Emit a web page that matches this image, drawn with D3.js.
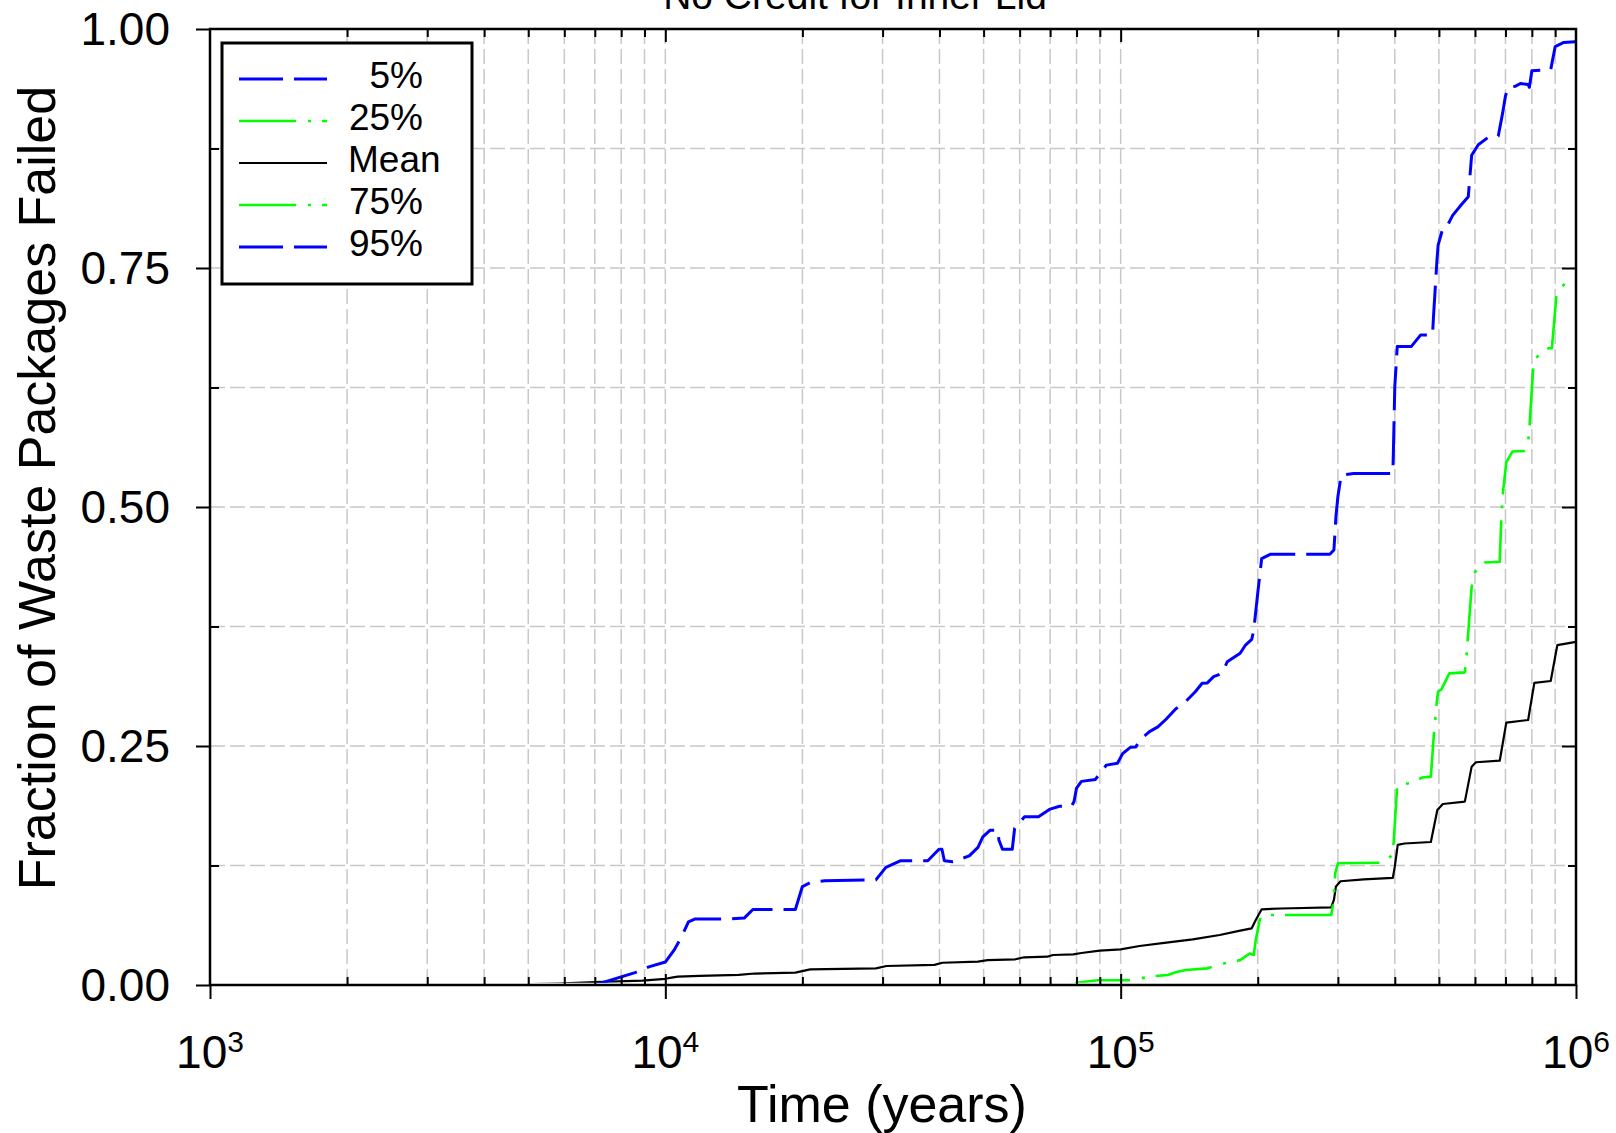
<!DOCTYPE html>
<html>
<head>
<meta charset="utf-8">
<script src="https://cdn.jsdelivr.net/npm/d3@7"></script>
<style>
  body { margin: 0; background: #fff; }
  svg { display: block; font-family: "Liberation Sans", Arial, Helvetica, sans-serif; }
</style>
</head>
<body>
<div id="chart"></div>
<script>
// Waste package failure fraction vs time (log axis)

// [time (years), fraction failed]
const pct5 = [[1e3, 0], [1e6, 0]];
const pct25 = [[1e3, 0], [1e6, 0]];

const meanCurve = [
  [3.6e3, 0], [4.4e3, 0.0004], [5.8e3, 0.0015], [7.0e3, 0.003], [8.9e3, 0.0045],
  [1.0e4, 0.0065], [1.04e4, 0.008], [1.065e4, 0.0087], [1.19e4, 0.0095], [1.45e4, 0.0105],
  [1.57e4, 0.012], [1.93e4, 0.013], [2.08e4, 0.0164], [2.9e4, 0.0174], [3.06e4, 0.0199],
  [3.9e4, 0.021], [4.06e4, 0.0233], [4.86e4, 0.0244], [5.1e4, 0.026], [5.87e4, 0.0269],
  [6.14e4, 0.029], [6.9e4, 0.0296], [7.1e4, 0.0314], [7.87e4, 0.032], [8.2e4, 0.0335],
  [9.0e4, 0.036], [1.0e5, 0.0373], [1.1e5, 0.0408], [1.26e5, 0.0443], [1.44e5, 0.0478],
  [1.65e5, 0.0523], [1.83e5, 0.0568], [1.94e5, 0.0593], [1.98e5, 0.068], [2.04e5, 0.0792],
  [2.25e5, 0.080], [2.9e5, 0.0813], [2.94e5, 0.089], [2.97e5, 0.103], [3.04e5, 0.1085],
  [3.42e5, 0.1105], [3.96e5, 0.112], [4.0e5, 0.1238], [4.06e5, 0.1465], [4.2e5, 0.148],
  [4.8e5, 0.1496], [4.96e5, 0.183], [5.1e5, 0.1893], [5.7e5, 0.1918], [5.9e5, 0.2284],
  [6.03e5, 0.233], [6.8e5, 0.2346], [7.03e5, 0.2744], [7.85e5, 0.2772], [8.1e5, 0.316],
  [8.8e5, 0.318], [9.1e5, 0.3556], [1e6, 0.359]
];

const pct75 = [
  [7.9e4, 0], [8.0e4, 0.0024], [8.9e4, 0.005], [1.04e5, 0.005], [1.19e5, 0.0094],
  [1.27e5, 0.0105], [1.32e5, 0.0133], [1.39e5, 0.0157], [1.55e5, 0.0174], [1.69e5, 0.0227],
  [1.83e5, 0.026], [1.92e5, 0.033], [1.96e5, 0.0314], [1.98e5, 0.047], [2.02e5, 0.068],
  [2.05e5, 0.0732], [2.9e5, 0.0732], [2.93e5, 0.0854], [2.96e5, 0.117], [3.0e5, 0.1273],
  [3.8e5, 0.128], [3.96e5, 0.137], [3.98e5, 0.152], [4.05e5, 0.209], [4.3e5, 0.211],
  [4.6e5, 0.217], [4.8e5, 0.218], [4.87e5, 0.26], [4.95e5, 0.298], [4.98e5, 0.307],
  [5.06e5, 0.309], [5.27e5, 0.326], [5.7e5, 0.327], [5.75e5, 0.345], [5.9e5, 0.4167],
  [6.0e5, 0.432], [6.3e5, 0.442], [6.8e5, 0.4428], [6.85e5, 0.4847], [6.9e5, 0.5125],
  [7.03e5, 0.547], [7.25e5, 0.558], [7.7e5, 0.5586], [7.85e5, 0.568], [7.9e5, 0.5823],
  [8.04e5, 0.6405], [8.1e5, 0.655], [8.7e5, 0.666], [8.85e5, 0.666], [8.87e5, 0.671],
  [9.06e5, 0.722], [9.45e5, 0.734], [1e6, 0.736]
];

const pct95 = [
  [7.0e3, 0], [8.58e3, 0.013], [9.2e3, 0.019], [1.0e4, 0.024], [1.047e4, 0.037],
  [1.084e4, 0.05], [1.124e4, 0.066], [1.16e4, 0.069], [1.38e4, 0.069], [1.49e4, 0.070],
  [1.557e4, 0.079], [1.93e4, 0.079], [2.0e4, 0.103], [2.08e4, 0.107], [2.24e4, 0.109],
  [2.9e4, 0.110], [3.05e4, 0.123], [3.29e4, 0.130], [3.77e4, 0.130], [3.99e4, 0.142],
  [4.05e4, 0.142], [4.1e4, 0.130], [4.28e4, 0.129], [4.65e4, 0.135], [4.86e4, 0.144],
  [4.98e4, 0.155], [5.17e4, 0.162], [5.38e4, 0.162], [5.4e4, 0.152], [5.5e4, 0.142],
  [5.78e4, 0.142], [5.85e4, 0.164], [6.15e4, 0.176], [6.6e4, 0.176], [7.0e4, 0.184],
  [7.34e4, 0.187], [7.8e4, 0.187], [7.9e4, 0.192], [8.0e4, 0.206], [8.2e4, 0.213],
  [8.8e4, 0.215], [9.3e4, 0.230], [9.84e4, 0.232], [1.01e5, 0.242], [1.05e5, 0.2486],
  [1.08e5, 0.249], [1.1e5, 0.256], [1.157e5, 0.265], [1.207e5, 0.270], [1.258e5, 0.278],
  [1.322e5, 0.289], [1.38e5, 0.295], [1.46e5, 0.307], [1.51e5, 0.3156], [1.55e5, 0.316],
  [1.6e5, 0.3225], [1.67e5, 0.326], [1.714e5, 0.338], [1.83e5, 0.347], [1.88e5, 0.3556],
  [1.94e5, 0.3616], [1.96e5, 0.371], [2.0e5, 0.41], [2.04e5, 0.446], [2.13e5, 0.4505],
  [2.88e5, 0.4505], [2.94e5, 0.455], [2.97e5, 0.49], [3.0e5, 0.511], [3.05e5, 0.5335],
  [3.25e5, 0.535], [3.96e5, 0.535], [3.97e5, 0.554], [4.0e5, 0.626], [4.05e5, 0.668],
  [4.35e5, 0.668], [4.56e5, 0.68], [4.84e5, 0.68], [4.87e5, 0.703], [4.95e5, 0.758],
  [4.98e5, 0.774], [5.1e5, 0.7915], [5.2e5, 0.793], [5.36e5, 0.805], [5.55e5, 0.814],
  [5.8e5, 0.8246], [5.9e5, 0.868], [6.1e5, 0.879], [6.43e5, 0.887], [6.75e5, 0.888],
  [6.9e5, 0.912], [7.0e5, 0.93], [7.1e5, 0.939], [7.35e5, 0.940], [7.55e5, 0.943],
  [7.85e5, 0.942], [7.9e5, 0.939], [8.0e5, 0.9564], [8.8e5, 0.9575], [9.0e5, 0.9815],
  [9.4e5, 0.986], [1e6, 0.9867]
];

const majorYears = [1e3, 1e4, 1e5, 1e6];
const yMajor = [0, 0.25, 0.5, 0.75, 1];
const yMinor = [0.125, 0.375, 0.625, 0.875];
const legendLabels = ["5%", "25%", "Mean", "75%", "95%"];

const W = 1616, H = 1133;
const L = 210, R = 1576, T = 29, B = 985;

const svg = d3.select("#chart").append("svg")
  .attr("width", W)
  .attr("height", H);

svg.append("rect").attr("width", W).attr("height", H).attr("fill", "#fff");

const x = d3.scaleLog().domain([1e3, 1e6]).range([L, R]);
const y = d3.scaleLinear().domain([0, 1]).range([B, T]);

// minor decade ticks 2..9
const minorYears = [];
[1e3, 1e4, 1e5].forEach(d => { for (let k = 2; k <= 9; k++) minorYears.push(k * d); });
const gridYears = minorYears.concat([1e4, 1e5]);

// grid
svg.append("g").selectAll("line")
  .data(gridYears)
  .enter().append("line")
  .attr("x1", d => x(d)).attr("x2", d => x(d))
  .attr("y1", T).attr("y2", B)
  .attr("stroke", "#c8c8c8")
  .attr("stroke-width", 1.5)
  .attr("stroke-dasharray", "15,5");

svg.append("g").selectAll("line")
  .data(yMinor.concat([0.25, 0.5, 0.75]))
  .enter().append("line")
  .attr("x1", L).attr("x2", R)
  .attr("y1", d => y(d)).attr("y2", d => y(d))
  .attr("stroke", "#c8c8c8")
  .attr("stroke-width", 1.5)
  .attr("stroke-dasharray", "15,5");

// curves (clipped so the zero-valued quantiles stay hidden under the axis)
svg.append("clipPath").attr("id", "plotclip")
  .append("rect").attr("x", L).attr("y", T).attr("width", R - L).attr("height", B - T - 2.2);

const line = d3.line().x(d => x(d[0])).y(d => y(d[1]));

const series = [
  {name: "5%", data: pct5, color: "#0000ff", width: 3, dash: "44,11"},
  {name: "25%", data: pct25, color: "#00ff00", width: 2.6, dash: "57,12,3,11"},
  {name: "Mean", data: meanCurve, color: "#000000", width: 2.2, dash: null},
  {name: "75%", data: pct75, color: "#00ff00", width: 2.6, dash: "57,12,3,11"},
  {name: "95%", data: pct95, color: "#0000ff", width: 3, dash: "44,11"}
];

svg.append("g").attr("clip-path", "url(#plotclip)")
  .selectAll("path")
  .data(series)
  .enter().append("path")
  .attr("d", d => line(d.data))
  .attr("fill", "none")
  .attr("stroke", d => d.color)
  .attr("stroke-width", d => d.width)
  .attr("stroke-dasharray", d => d.dash)
  .attr("stroke-linejoin", "round");

// frame
svg.append("rect")
  .attr("x", L).attr("y", T)
  .attr("width", R - L).attr("height", B - T)
  .attr("fill", "none")
  .attr("stroke", "#000")
  .attr("stroke-width", 2.5);

// ticks via d3 axes
function tickAxis(axis, tx, ty) {
  const g = svg.append("g").attr("transform", `translate(${tx},${ty})`).call(axis);
  g.select(".domain").remove();
  g.selectAll(".tick line").attr("stroke", "#000").attr("stroke-width", 2);
  g.selectAll(".tick text").remove();
  return g;
}

tickAxis(d3.axisBottom(x).tickValues(majorYears).tickSize(14).tickSizeOuter(0).tickFormat(""), 0, B);
tickAxis(d3.axisBottom(x).tickValues([1e4, 1e5]).tickSize(-11).tickSizeOuter(0).tickFormat(""), 0, B);
tickAxis(d3.axisBottom(x).tickValues(minorYears).tickSize(-8).tickSizeOuter(0).tickFormat(""), 0, B);
tickAxis(d3.axisTop(x).tickValues([1e4, 1e5]).tickSize(-13).tickSizeOuter(0).tickFormat(""), 0, T);
tickAxis(d3.axisTop(x).tickValues(minorYears).tickSize(-8).tickSizeOuter(0).tickFormat(""), 0, T);
tickAxis(d3.axisLeft(y).tickValues(yMajor).tickSize(14).tickSizeOuter(0).tickFormat(""), L, 0);
tickAxis(d3.axisLeft(y).tickValues(yMinor).tickSize(-9).tickSizeOuter(0).tickFormat(""), L, 0);
tickAxis(d3.axisRight(y).tickValues([0.25, 0.5, 0.75]).tickSize(-14).tickSizeOuter(0).tickFormat(""), R, 0);
tickAxis(d3.axisRight(y).tickValues(yMinor).tickSize(-8).tickSizeOuter(0).tickFormat(""), R, 0);

// y tick labels
svg.append("g").selectAll("text")
  .data(yMajor)
  .enter().append("text")
  .attr("x", L - 40)
  .attr("y", d => y(d) + 16)
  .attr("text-anchor", "end")
  .style("font-size", "46px")
  .text(d => d3.format(".2f")(d));

// x tick labels 10^n
const xl = svg.append("g").selectAll("text")
  .data(majorYears)
  .enter().append("text")
  .attr("x", d => x(d))
  .attr("y", B + 83)
  .attr("text-anchor", "middle")
  .style("font-size", "46px");
xl.append("tspan").text("10");
xl.append("tspan")
  .attr("dy", -16)
  .style("font-size", "30px")
  .text(d => Math.round(Math.log10(d)));

// axis titles
svg.append("text")
  .attr("x", 882).attr("y", 1122)
  .attr("text-anchor", "middle")
  .style("font-size", "52px")
  .text("Time (years)");

svg.append("text")
  .attr("transform", "translate(55,488) rotate(-90)")
  .attr("text-anchor", "middle")
  .style("font-size", "52px")
  .text("Fraction of Waste Packages Failed");

// title sits above the frame and is cropped at the top edge, as in the source
svg.append("text")
  .attr("x", 855).attr("y", 9)
  .attr("text-anchor", "middle")
  .style("font-size", "39px")
  .text("No Credit for Inner Lid");

// legend
const legend = svg.append("g");
legend.append("rect")
  .attr("x", 222).attr("y", 43)
  .attr("width", 250).attr("height", 241)
  .attr("fill", "#fff")
  .attr("stroke", "#000")
  .attr("stroke-width", 3);

const items = legend.selectAll(".item")
  .data(series)
  .enter().append("g")
  .attr("transform", (d, i) => `translate(0,${79 + i * 42})`);

items.append("line")
  .attr("x1", 239).attr("x2", 327)
  .attr("stroke", d => d.color)
  .attr("stroke-width", d => d.width)
  .attr("stroke-dasharray", d => d.dash);

items.append("text")
  .attr("x", (d, i) => legendLabels[i] === "Mean" ? 348 : 423)
  .attr("y", 9)
  .attr("text-anchor", (d, i) => legendLabels[i] === "Mean" ? "start" : "end")
  .style("font-size", "37px")
  .text((d, i) => legendLabels[i]);
</script>
</body>
</html>
